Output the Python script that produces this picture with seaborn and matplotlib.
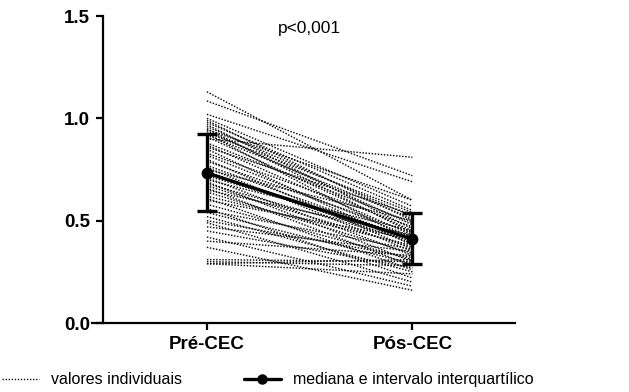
import numpy as np
import pandas as pd
import matplotlib
matplotlib.use("Agg")
import matplotlib.pyplot as plt
import seaborn as sns
from matplotlib.lines import Line2D

sns.set_style("ticks")
plt.rcParams["font.family"] = ["Liberation Sans", "DejaVu Sans"]
plt.rcParams["text.color"] = "black"
plt.rcParams["xtick.color"] = "black"
plt.rcParams["ytick.color"] = "black"

# Paired measurements per patient
timepoints = ["Pré-CEC", "Pós-CEC"]
pre_values = [1.13, 1.085, 1.02, 1.00, 0.99, 0.98, 0.97, 0.96, 0.95, 0.945, 0.94, 0.93, 0.925, 0.92,
              0.91, 0.90, 0.88, 0.87, 0.86, 0.85, 0.83, 0.82, 0.80, 0.79, 0.77, 0.76, 0.75, 0.74,
              0.72, 0.71, 0.70, 0.69, 0.68, 0.67, 0.66, 0.65, 0.64, 0.62, 0.61, 0.60, 0.58, 0.56,
              0.55, 0.54, 0.52, 0.50, 0.49, 0.47, 0.45, 0.42, 0.37, 0.31, 0.30, 0.29, 0.29, 0.40]
post_values = [0.60, 0.72, 0.69, 0.57, 0.50, 0.55, 0.46, 0.52, 0.44, 0.60, 0.48, 0.54, 0.40, 0.51,
               0.45, 0.81, 0.49, 0.43, 0.53, 0.38, 0.47, 0.42, 0.36, 0.44, 0.41, 0.35, 0.50, 0.39,
               0.42, 0.33, 0.45, 0.30, 0.40, 0.37, 0.28, 0.43, 0.34, 0.38, 0.26, 0.41, 0.31, 0.22,
               0.36, 0.29, 0.25, 0.32, 0.20, 0.35, 0.27, 0.18, 0.16, 0.30, 0.28, 0.31, 0.24, 0.33]

# Median and interquartile range per timepoint
medians = [0.733, 0.410]
q1 = [0.547, 0.288]
q3 = [0.923, 0.537]

p_text = "p<0,001"
legend_labels = ["valores individuais", "mediana e intervalo interquartílico"]
y_ticks = [0.0, 0.5, 1.0, 1.5]
y_ticklabels = ["0.0", "0.5", "1.0", "1.5"]

n = len(pre_values)
df = pd.DataFrame({
    "paciente": list(range(n)) * 2,
    "momento": [timepoints[0]] * n + [timepoints[1]] * n,
    "valor": pre_values + post_values,
})
df["pos"] = df["momento"].map({t: i for i, t in enumerate(timepoints)})

fig = plt.figure(figsize=(6.29, 3.92), dpi=100)
ax = fig.add_axes([0.146, 0.176, 0.673, 0.783])

# spine placement first (it resets the tick setup)
for s in ["top", "right"]:
    ax.spines[s].set_visible(False)
ax.spines["left"].set_position(("data", -0.507))

sns.lineplot(data=df, x="pos", y="valor", units="paciente", estimator=None,
             color="#111111", lw=1.05, linestyle=(0, (1, 1.1)), ax=ax, legend=False)

xs = np.arange(len(timepoints))
med = np.array(medians)
yerr = np.vstack([med - np.array(q1), np.array(q3) - med])
ax.errorbar(xs, med, yerr=yerr, color="black", lw=2.4, marker="o", markersize=7.5,
            capsize=7, capthick=2.4, elinewidth=2.4, zorder=5)

ax.text(0.5, 1.44, p_text, ha="center", va="center", fontsize=12.5, color="black")

ax.set_xlim(-0.56, 1.50)
ax.set_ylim(0, 1.5)
ax.set_xticks(xs)
ax.set_xticklabels(timepoints, fontsize=13.5, fontweight="bold", color="black")
ax.set_yticks(y_ticks)
ax.set_yticklabels(y_ticklabels, fontsize=13.5, fontweight="bold", color="black")
ax.set_xlabel("")
ax.set_ylabel("")
ax.tick_params(axis="both", length=5, width=1.6, color="black", direction="out", pad=4)
for s in ["left", "bottom"]:
    ax.spines[s].set_linewidth(1.6)
    ax.spines[s].set_color("black")
    ax.spines[s].set_zorder(6)
for lbl in ax.get_xticklabels() + ax.get_yticklabels():
    lbl.set_clip_on(False)

handles = [
    Line2D([], [], color="#111111", lw=1.0, linestyle=(0, (1, 1.2))),
    Line2D([], [], color="black", lw=2.4, marker="o", markersize=6.5),
]
fig.legend(handles, legend_labels, loc="lower left", bbox_to_anchor=(-0.012, -0.012),
           ncol=2, frameon=False, fontsize=11.5, handlelength=2.3, handletextpad=0.75,
           columnspacing=3.9, borderaxespad=0.2)

fig.savefig("out.png", dpi=100)
